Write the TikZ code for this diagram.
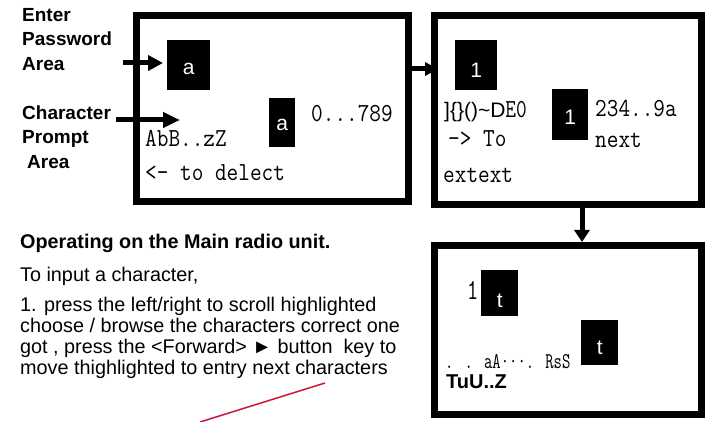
\documentclass[tikz,border=0pt]{standalone}
\usepackage{graphicx}
\usepackage{fontspec}
\newfontfamily\arial{Liberation Sans}
\usetikzlibrary{arrows.meta,calc}
\definecolor{pointerred}{RGB}{205,20,60}
\newcommand\lcdtxt[2][0.87]{\scalebox{#1}[1]{#2}}
\begin{document}
\begin{tikzpicture}[x=1pt,y=-1pt,
  screen/.style={draw=black,line width=7pt,rectangle,inner sep=0pt,anchor=north west},
  hl/.style={fill=black,text=white,inner sep=0pt,anchor=north west,text depth=0pt,font=\arial\fontsize{21}{21}\selectfont},
  lcd/.style={inner sep=0pt,anchor=base west,font=\ttfamily\fontsize{26}{26}\selectfont},
  lbl/.style={inner sep=0pt,anchor=north west,align=left,font=\arial\bfseries\fontsize{19}{24.5}\selectfont},
  sansb/.style={inner sep=0pt,anchor=base west,font=\arial\bfseries\fontsize{19.8}{20}\selectfont},
  sansr/.style={inner sep=0pt,anchor=base west,font=\arial\fontsize{19.8}{21.3}\selectfont},
  arr/.style={line width=5pt,-{Triangle[length=15pt,width=15pt]}},
  redline/.style={draw=pointerred,line width=1.5pt},
]
\useasboundingbox[fill=white] (0,0) rectangle (712,422);

% screens
\node[screen,minimum width=272pt,minimum height=186pt] (s1) at (133,12) {};
\node[screen,minimum width=267pt,minimum height=189pt] (s2) at (431,12) {};
\node[screen,minimum width=267pt,minimum height=169pt] (s3) at (431,242) {};

% highlighted cursors
\node[hl,minimum width=43pt,minimum height=50pt,text height=19pt] (h1) at (167,40) {a};
\node[hl,minimum width=26pt,minimum height=49pt,text height=16pt] (h2) at (269,98) {a};
\node[hl,minimum width=42pt,minimum height=50pt,text height=24pt] (h3) at (455,40) {1};
\node[hl,minimum width=36pt,minimum height=51pt,text height=19pt] (h4) at (552,89) {1};
\node[hl,minimum width=37pt,minimum height=46pt,text height=28pt] (h5) at (481,270) {t};
\node[hl,minimum width=37pt,minimum height=45pt,text height=23pt] (h6) at (581,320) {t};

% screen 1 texts
\node[lcd] (t789) at (311,122) {\lcdtxt{0...789}};
\node[lcd] (tAb) at (145,147) {\lcdtxt{AbB..zZ}};
\node[lcd] (tdel) at (145,181) {\lcdtxt{<- to delect}};

% screen 2 texts
\node[lcd] (tsym) at (444,118) {{\arial\fontsize{21}{21}\selectfont ]\{\}()\textasciitilde D}\lcdtxt[0.8]{E0}};
\node[lcd] (tto) at (448,147) {\lcdtxt{-> To}};
\node[lcd] (t234) at (595,117) {\lcdtxt{234..9a}};
\node[lcd] (tnext) at (595,148) {\lcdtxt{next}};
\node[lcd] (tex1) at (443,183) {\lcdtxt{extext}};

% screen 3 texts
\node[lcd,font=\ttfamily\fontsize{29}{29}\selectfont] (tone) at (467,299) {\lcdtxt[0.75]{1}};
\node[lcd,font=\ttfamily\fontsize{22.5}{22.5}\selectfont] (taA) at (445,368) {\lcdtxt[0.72]{. . aA···. RsS}};
\node[sansb,font=\arial\bfseries\fontsize{20}{20}\selectfont] (tTu) at (446,388) {TuU..Z};

% left labels
\node[lbl] (l1) at (22,8) {Enter\\Password\\Area};
\node[lbl] (l2) at (22,105.4) {Character\\Prompt\\\hspace*{5pt}Area};

% bottom text
\node[sansb] (head) at (20,248) {Operating on the Main radio unit.};
\node[sansr] (intro) at (20,281) {To input a character,};
\node[sansr,anchor=north west,align=left] (para) at (20,296.5)
  {1. press the left/right to scroll highlighted\\
   choose / browse the characters correct one\\
   got , press the <Forward> ► button\ \ key to\\
   move thighlighted to entry next characters};

% arrows
\coordinate (p1) at (163,63);
\coordinate (p2) at (180,120);
\coordinate (ry) at (0,69);
\coordinate (dx) at (582,0);
\draw[arr] ($(l1.east |- p1)+(11,0)$) -- (p1);
\draw[arr,-{Triangle[length=17pt,width=15pt]}] ($(l2.east |- p2)+(5,0)$) -- (p2);
\draw[line width=5pt,-{Triangle[length=13pt,width=13pt]}] (s1.east |- ry) -- ($(s2.west |- ry)+(7,0)$);
\draw[line width=5pt,-{Triangle[length=12pt,width=15pt]}] (s2.south -| dx) -- (s3.north -| dx);

% red pointer
\coordinate (r1) at (325,383);
\coordinate (r2) at (200,422);
\draw[redline] (r1) -- (r2);
\end{tikzpicture}
\end{document}
